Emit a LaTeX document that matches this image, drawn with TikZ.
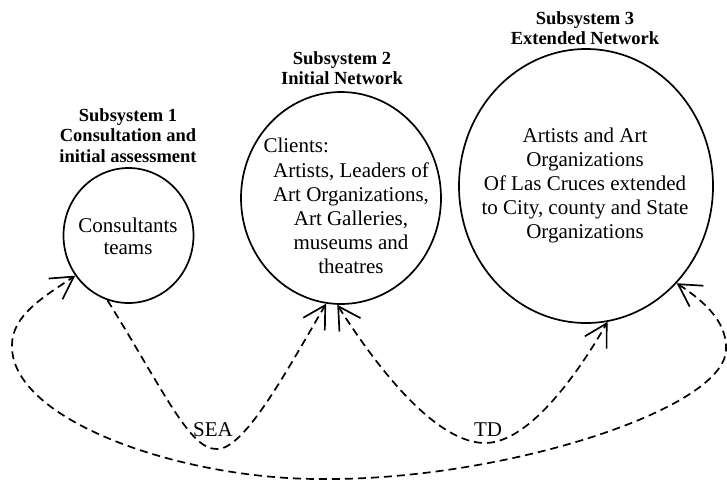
\documentclass[tikz,border=0pt]{standalone}
\usepackage{fontspec}
\setmainfont{Liberation Serif}
\usetikzlibrary{arrows.meta,shapes.geometric}
\begin{document}
\begin{tikzpicture}[x=1pt,y=-1pt,
  sys/.style={draw,ellipse,line width=1.7pt,inner sep=0pt},
  ttl/.style={align=center,font=\bfseries\fontsize{18.5}{20.5}\selectfont},
  body/.style={align=center,font=\fontsize{21}{24}\selectfont},
  lbl/.style={font=\fontsize{21}{24}\selectfont,inner sep=1pt},
  tip/.style={arrows={-{Straight Barb[length=22pt,width=25pt,line width=1.7pt]}}},
  tips/.style={arrows={{Straight Barb[length=22pt,width=25pt,line width=1.7pt]}-{Straight Barb[length=22pt,width=25pt,line width=1.7pt]}}},
  conn/.style={line width=1.7pt,dash pattern=on 8pt off 5pt}]
\useasboundingbox (0,0) rectangle (727,483);
% systems
\node[sys,minimum width=130pt,minimum height=135pt] (c1) at (128.5,235.5) {};
\node[sys,minimum width=200pt,minimum height=212pt] (c2) at (341,198) {};
\node[sys,minimum width=254pt,minimum height=274pt] (c3) at (586,186) {};
% titles
\node[ttl] (t1) at (128,135.5) {Subsystem 1\\Consultation and\\initial assessment};
\node[ttl] (t2) at (342,68) {Subsystem 2\\Initial Network};
\node[ttl] (t3) at (585,28) {Subsystem 3\\Extended Network};
% body texts
\node[body,font=\fontsize{21}{22}\selectfont] (b1) at (128,236) {Consultants\\teams};
\node[body,anchor=base west] (b2a) at (260,152) {Clients:};
\node[body] (b2b) at (351,218) {Artists, Leaders of\\Art Organizations,\\Art Galleries,\\museums and\\theatres};
\node[body] (b3) at (585,185) {Artists and Art\\Organizations\\Of Las Cruces extended\\to City, county and State\\Organizations};
% connectors
\coordinate (seab) at (217,449);
\coordinate (tdb) at (485,443);
\coordinate (lr) at (726,350);
\coordinate (lb) at (320,479);
\coordinate (ll) at (12,345);
\draw[conn,tip] (c1.252) .. controls (165,393) and (190,450) .. (seab)
  .. controls (245,450) and (291,363) .. (c2.262);
\draw[conn,tips] (c2.268) .. controls (385,380) and (440,443) .. (tdb)
  .. controls (530,443) and (580,370) .. (c3.279.6);
\draw[conn,tips] (c3.313) .. controls (710,305) and (727,325) .. (lr)
  .. controls (724,410) and (500,481) .. (lb)
  .. controls (180,479) and (10,420) .. (ll)
  .. controls (12,315) and (45,296) .. (c1.217);
\node[lbl] (sea) at (213,430) {SEA};
\node[lbl] (td) at (488,430) {TD};
\end{tikzpicture}
\end{document}
